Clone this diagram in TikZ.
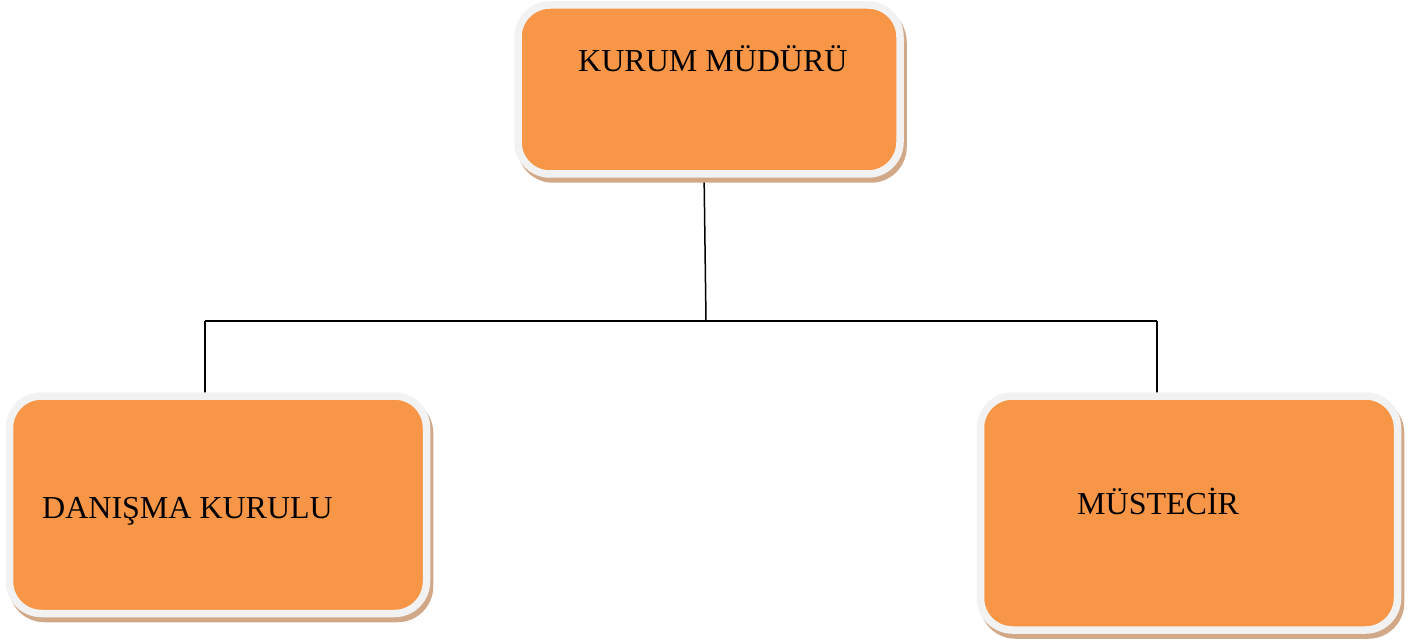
\documentclass[tikz,border=0pt]{standalone}
\usepackage{fontspec}
\setmainfont{Liberation Serif}
\definecolor{boxorange}{HTML}{F79646}
\definecolor{boxrim}{HTML}{F2F2F2}
\definecolor{boxshadow}{HTML}{D2A988}
\begin{document}
\begin{tikzpicture}[x=1pt,y=1pt,
  orgbox/.style={rectangle, rounded corners=32pt, draw=boxrim, fill=boxorange,
    line width=7.5pt, inner sep=0pt, outer sep=0pt,
    preaction={draw=boxshadow, fill=boxshadow, line width=7.5pt,
      transform canvas={shift={(3pt,-5pt)}}}},
  orgtext/.style={inner sep=0pt, anchor=base west, font=\fontsize{32}{38}\selectfont, text=black},
  link/.style={draw=black, line width=1.5pt}]
\useasboundingbox (0,0) rectangle (1427,-644);
% connectors
\coordinate (t0) at (704,-170);
\coordinate (j) at (706,-321);
\coordinate (jl) at (205,-321);
\coordinate (jr) at (1157,-321);
\coordinate (l0) at (205,-396);
\coordinate (r0) at (1157,-396);
\draw[link] (t0) -- (j);
\draw[link] (jl) -- (jr);
\draw[link] (jl) -- (l0);
\draw[link] (jr) -- (r0);
% boxes
\node[orgbox, minimum width=382pt, minimum height=169pt] (top) at (709,-89.5) {};
\node[orgbox, minimum width=417pt, minimum height=217.5pt] (left) at (218,-504.75) {};
\node[orgbox, minimum width=417pt, minimum height=234pt] (right) at (1189,-513) {};
% texts
\node[orgtext] (toptext) at (578,-72) {KURUM MÜDÜRÜ};
\node[orgtext] (lefttext) at (42,-518) {DANIŞMA KURULU};
\node[orgtext] (righttext) at (1077,-514) {MÜSTECİR};
\end{tikzpicture}
\end{document}
